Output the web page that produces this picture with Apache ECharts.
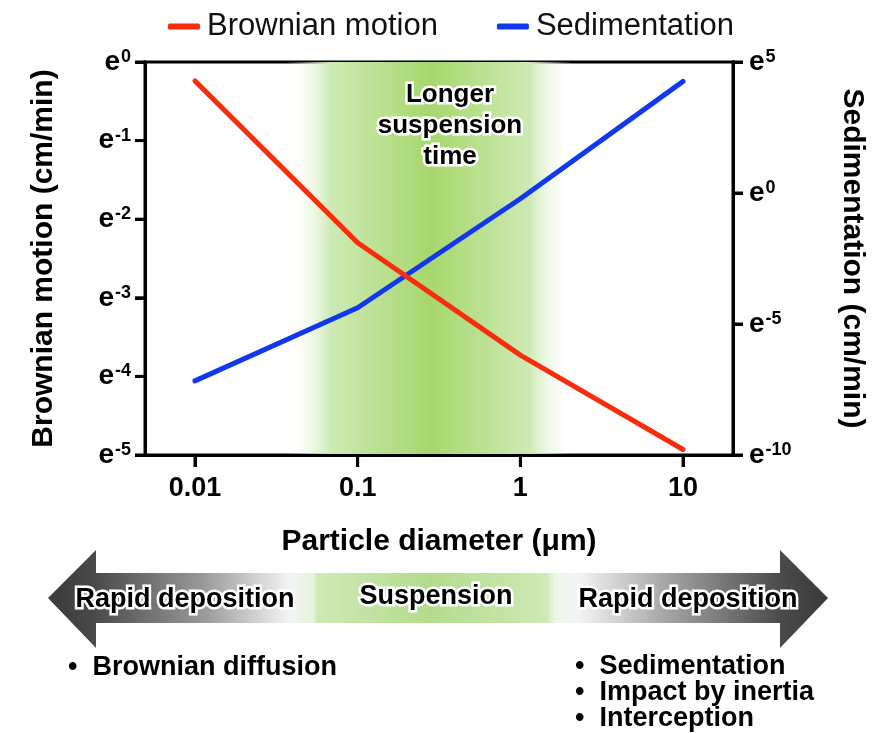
<!DOCTYPE html>
<html>
<head>
<meta charset="utf-8">
<script src="https://cdn.jsdelivr.net/npm/echarts@6/dist/echarts.min.js"></script>
<style>
html,body{margin:0;padding:0;background:#fff;}
#chart{width:886px;height:733px;}
</style>
</head>
<body>
<div id="chart"></div>
<script>
// ---- data ----
const diameters = [0.01, 0.1, 1, 10];               // particle diameter (um)
const tickLabels = ['0.01', '0.1', '1', '10'];
const brownianLn = [-0.24, -2.30, -3.73, -4.93];     // ln(cm/min)
const sedimentationLn = [-7.17, -4.38, -0.22, 4.26]; // ln(cm/min)
const leftTicks = [0, -1, -2, -3, -4, -5];
const rightTicks = [5, 0, -5, -10];
const suspensionBand = [0.037, 2.1];                 // diameter range of green band
const xRangeLog = [-2.307, 1.307];
const seriesNames = ['Brownian motion', 'Sedimentation'];

const FONT = '"Liberation Sans", Arial, sans-serif';
const lg = Math.log10;

const chart = echarts.init(document.getElementById('chart'), null, {renderer: 'canvas'});

const supRich = {
  b: {fontSize: 28, fontWeight: 'bold', color: '#000', fontFamily: FONT},
  s: {fontSize: 18, fontWeight: 'bold', color: '#000', fontFamily: FONT, verticalAlign: 'top', padding: [0, 0, 0, 1]}
};

const bandGradient = new echarts.graphic.LinearGradient(0, 0, 1, 0, [
  {offset: 0, color: 'rgba(255,255,255,0)'},
  {offset: 0.15, color: 'rgba(206,234,180,1)'},
  {offset: 0.5, color: 'rgba(166,215,108,1)'},
  {offset: 0.85, color: 'rgba(206,234,180,1)'},
  {offset: 1, color: 'rgba(255,255,255,0)'}
]);

const arrowGradient = new echarts.graphic.LinearGradient(0, 0, 1, 0, [
  {offset: 0, color: '#3a3a3a'},
  {offset: 0.06, color: '#4a4a4a'},
  {offset: 0.2, color: '#9a9a9a'},
  {offset: 0.31, color: '#f4f4f4'},
  {offset: 0.34, color: '#e6f3da'},
  {offset: 0.345, color: '#cfe9b6'},
  {offset: 0.49, color: '#b2dc8c'},
  {offset: 0.64, color: '#cfe9b6'},
  {offset: 0.65, color: '#eef6e8'},
  {offset: 0.68, color: '#f4f4f4'},
  {offset: 0.8, color: '#a0a0a0'},
  {offset: 0.94, color: '#4a4a4a'},
  {offset: 1, color: '#3a3a3a'}
]);

function outlinedText(text, x, y, size, align) {
  return {
    type: 'text', x: x, y: y, z: 100,
    style: {
      text: text, fill: '#000', font: 'bold ' + size + 'px ' + FONT,
      align: align || 'center', verticalAlign: 'middle',
      stroke: '#fff', lineWidth: 5, strokeFirst: true
    }
  };
}
function plainText(text, x, y, size) {
  return {
    type: 'text', x: x, y: y, z: 100,
    style: {text: text, fill: '#000', font: 'bold ' + size + 'px ' + FONT, align: 'left', verticalAlign: 'middle'}
  };
}

const axisNameStyle = {fontSize: 30, fontWeight: 'bold', color: '#000', fontFamily: FONT};

const staticGraphics = [
  outlinedText('Longer', 450, 95, 26),
  outlinedText('suspension', 450, 126, 26),
  outlinedText('time', 450, 157, 26),
  {
    type: 'polygon', z: 50,
    shape: {points: [[48, 598], [96, 550], [96, 573], [780, 573], [780, 550], [828, 598], [780, 648], [780, 623], [96, 623], [96, 648]]},
    style: {fill: arrowGradient}
  },
  outlinedText('Rapid deposition', 185, 600, 27),
  outlinedText('Suspension', 436, 597, 27),
  outlinedText('Rapid deposition', 688, 600, 27),
  plainText('\u2022  Brownian diffusion', 68, 668, 27),
  plainText('\u2022  Sedimentation', 575, 667, 27),
  plainText('\u2022  Impact by inertia', 575, 693, 27),
  plainText('\u2022  Interception', 575, 719, 27)
];

const option = {
  animation: false,
  backgroundColor: '#fff',
  textStyle: {fontFamily: FONT},
  legend: {
    left: 163, top: 6, itemWidth: 32, itemHeight: 6, itemGap: 59,
    icon: 'roundRect',
    textStyle: {fontSize: 31, color: '#111', fontFamily: FONT, padding: [0, 0, 0, 2]},
    data: seriesNames
  },
  grid: {
    left: 145, right: 153, top: 62, bottom: 278,
    show: true, borderColor: '#000', borderWidth: 3, backgroundColor: 'transparent'
  },
  xAxis: {
    type: 'value', min: xRangeLog[0], max: xRangeLog[1], z: 10,
    name: 'Particle diameter (\u03bcm)', nameLocation: 'middle', nameGap: 72,
    nameTextStyle: axisNameStyle,
    axisLine: {onZero: false, lineStyle: {color: '#000', width: 3}},
    axisTick: {show: true, length: 12, lineStyle: {color: '#000', width: 3}, customValues: diameters.map(lg)},
    axisLabel: {
      customValues: diameters.map(lg), margin: 20,
      fontSize: 27, fontWeight: 'bold', color: '#000',
      formatter: function (v) { const i = diameters.findIndex(d => Math.abs(lg(d) - v) < 1e-6); return i >= 0 ? tickLabels[i] : ''; }
    },
    splitLine: {show: false}
  },
  yAxis: [{
    type: 'value', min: -5, max: 0, interval: 1, position: 'left', z: 10,
    name: 'Brownian motion (cm/min)', nameLocation: 'middle', nameGap: 86,
    nameTextStyle: axisNameStyle,
    axisLine: {show: true, onZero: false, lineStyle: {color: '#000', width: 3}},
    axisTick: {show: true, length: 10, lineStyle: {color: '#000', width: 3}},
    axisLabel: {margin: 14, formatter: v => '{b|e}{s|' + v + '}', rich: supRich},
    splitLine: {show: false}
  }, {
    type: 'value', min: -10, max: 5, interval: 5, position: 'right', z: 10,
    name: 'Sedimentation (cm/min)', nameLocation: 'middle', nameGap: 104, nameRotate: -90,
    nameTextStyle: axisNameStyle,
    axisLine: {show: true, onZero: false, lineStyle: {color: '#000', width: 3}},
    axisTick: {show: true, length: 10, lineStyle: {color: '#000', width: 3}},
    axisLabel: {margin: 16, formatter: v => '{b|e}{s|' + v + '}', rich: supRich},
    splitLine: {show: false}
  }],
  series: [{
    name: seriesNames[0], type: 'line', yAxisIndex: 0, z: 4,
    data: diameters.map((d, i) => [lg(d), brownianLn[i]]),
    showSymbol: false, symbol: 'none',
    itemStyle: {color: '#f72d0c'},
    lineStyle: {color: '#f72d0c', width: 5, cap: 'round', join: 'round'},
    markArea: {
      silent: true, z: 1,
      itemStyle: {color: bandGradient},
      data: [[{xAxis: lg(suspensionBand[0])}, {xAxis: lg(suspensionBand[1])}]]
    }
  }, {
    name: seriesNames[1], type: 'line', yAxisIndex: 1, z: 3,
    data: diameters.map((d, i) => [lg(d), sedimentationLn[i]]),
    showSymbol: false, symbol: 'none',
    itemStyle: {color: '#1238ee'},
    lineStyle: {color: '#1238ee', width: 5, cap: 'round', join: 'round'}
  }],
  graphic: staticGraphics
};
chart.setOption(option);

// Tick marks positioned through the chart's own axis scales
const tickStyle = {stroke: '#000', lineWidth: 3};
const xLeft = chart.convertToPixel({xAxisIndex: 0}, xRangeLog[0]);
const xRight = chart.convertToPixel({xAxisIndex: 0}, xRangeLog[1]);
const yBottom = chart.convertToPixel({yAxisIndex: 0}, -5);
const tickMarks = [];
leftTicks.forEach(v => {
  const y = chart.convertToPixel({yAxisIndex: 0}, v);
  tickMarks.push({type: 'line', z: 200, shape: {x1: xLeft - 10, y1: y, x2: xLeft + 1, y2: y}, style: tickStyle});
});
rightTicks.forEach(v => {
  const y = chart.convertToPixel({yAxisIndex: 1}, v);
  tickMarks.push({type: 'line', z: 200, shape: {x1: xRight - 1, y1: y, x2: xRight + 10, y2: y}, style: tickStyle});
});
diameters.forEach(d => {
  const x = chart.convertToPixel({xAxisIndex: 0}, lg(d));
  tickMarks.push({type: 'line', z: 200, shape: {x1: x, y1: yBottom - 1, x2: x, y2: yBottom + 12}, style: tickStyle});
});
chart.setOption({graphic: staticGraphics.concat(tickMarks)});
</script>
</body>
</html>
